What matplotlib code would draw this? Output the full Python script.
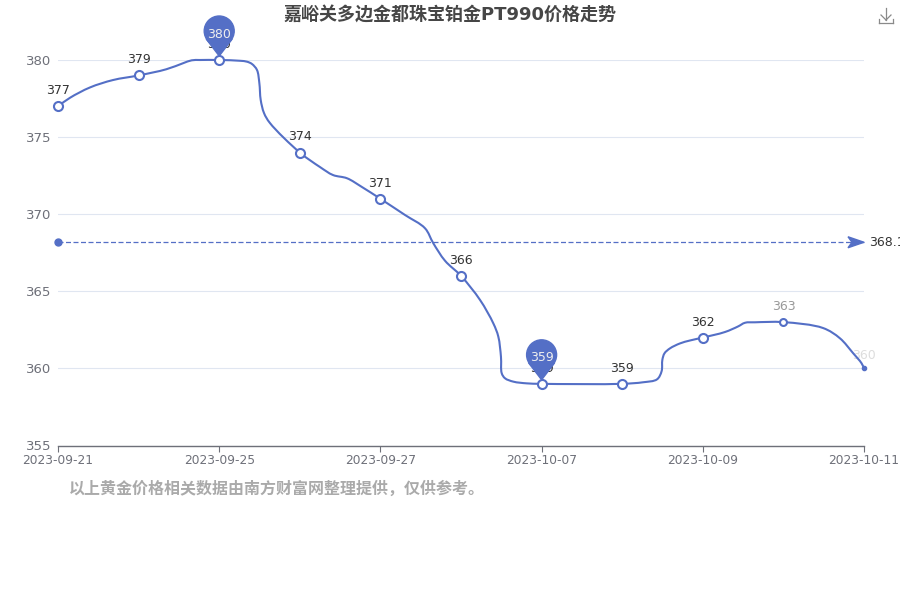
#!/usr/bin/python
# -*- coding: UTF-8 -*-
import numpy as np
from matplotlib import pyplot as plt
from matplotlib.path import Path
from matplotlib.patches import PathPatch, Polygon

plt.rcParams['font.family'] = ['DejaVu Sans', 'Noto Sans CJK SC']

dates = ['2023-09-21', '', '2023-09-25', '', '2023-09-27', '', '2023-10-07', '', '2023-10-09', '', '2023-10-11']
prices = [377, 379, 380, 374, 371, 366, 359, 359, 362, 363, 360]
avg_price = 368.18

# the smoothed line (position in days, price)
curve_x = [0, 0.149, 0.397, 0.682, 1, 1.344, 1.551, 1.659, 1.762, 2, 2.258, 2.345, 2.407, 2.469, 2.498, 2.515, 2.556, 2.63,
           3, 3.25, 3.412, 3.586, 3.772, 4, 4.305, 4.553, 4.656, 4.802, 5, 5.236, 5.401, 5.463, 5.496, 5.505,
           5.546, 5.65, 5.816, 6, 7, 7.258, 7.432, 7.489, 7.498, 7.525, 7.593, 7.717, 7.841, 8, 8.275, 8.437, 8.524, 8.648, 9,
           9.491, 9.702, 9.863, 9.97, 10]
curve_p = [377, 377.55, 378.22, 378.7, 379, 379.4, 379.79, 379.98, 380, 380, 379.95, 379.89, 379.74, 379.35, 378.51, 377.41, 376.56, 375.91,
           374, 373.06, 372.54, 372.33, 371.76, 371, 369.95, 369.09, 368.12, 366.98, 366, 364.44, 362.92, 362.06, 360.74, 359.69,
           359.36, 359.14, 359.03, 359, 359, 359.1, 359.29, 359.82, 360.55, 360.98, 361.3, 361.62, 361.81, 362, 362.36, 362.72, 362.96, 362.99, 363,
           362.62, 361.95, 361, 360.33, 360]

BLUE = '#546fc6'

fig = plt.figure(dpi=100, figsize=(9, 6))
ax = fig.add_axes([58 / 900, 1 - 445.5 / 600, 806 / 900, (445.5 - 60) / 600])
ax.set_xlim(0, len(prices) - 1)
ax.set_ylim(355, 380)
ax.set_facecolor('none')

for s in ['top', 'left', 'right']:
    ax.spines[s].set_visible(False)
ax.spines['bottom'].set_color('#6e7079')
ax.spines['bottom'].set_linewidth(1)
ax.set_yticks([355, 360, 365, 370, 375, 380])
ax.tick_params(axis='y', length=0, labelsize=9.5, labelcolor='#6e7079', pad=5)
ax.set_xticks(range(0, len(prices), 2))
ax.set_xticklabels(dates[::2])
ax.tick_params(axis='x', length=4, width=0.8, color='#6e7079', labelsize=8.8, labelcolor='#6e7079', pad=2)
ax.grid(axis='y', color='#e0e6f1', linewidth=0.8)
ax.set_axisbelow(True)

# centripetal catmull-rom through the read points, done in pixel space
pts = ax.transData.transform(np.column_stack([curve_x, curve_p]))
pts = np.vstack([2 * pts[0] - pts[1], pts, 2 * pts[-1] - pts[-2]])
verts = [tuple(pts[1])]
codes = [Path.MOVETO]
for i in range(1, len(pts) - 2):
    p0, p1, p2, p3 = pts[i - 1], pts[i], pts[i + 1], pts[i + 2]
    d1 = max(np.hypot(*(p1 - p0)), 1e-6) ** 0.5
    d2 = max(np.hypot(*(p2 - p1)), 1e-6) ** 0.5
    d3 = max(np.hypot(*(p3 - p2)), 1e-6) ** 0.5
    c1 = (d1 ** 2 * p2 - d2 ** 2 * p0 + (2 * d1 ** 2 + 3 * d1 * d2 + d2 ** 2) * p1) / (3 * d1 * (d1 + d2))
    c2 = (d3 ** 2 * p1 - d2 ** 2 * p3 + (2 * d3 ** 2 + 3 * d3 * d2 + d2 ** 2) * p2) / (3 * d3 * (d3 + d2))
    verts += [tuple(c1), tuple(c2), tuple(p2)]
    codes += [Path.CURVE4, Path.CURVE4, Path.CURVE4]
ax.add_patch(PathPatch(Path(verts, codes), fill=False, edgecolor=BLUE, linewidth=1.5,
                       transform=None, clip_on=False, zorder=3))

# markers get smaller and fainter towards the right end
sizes = [6.5] * 9 + [5]
for i, p in enumerate(prices[:-1]):
    ax.plot(i, p, 'o', ms=sizes[i], mfc='white', mec=BLUE, mew=1.5, clip_on=False, zorder=4)
ax.plot(10, prices[10], 'o', ms=3, color=BLUE, clip_on=False, zorder=4)

label_colors = ['#333333'] * 9 + ['#999999', '#dddddd']
for i, p in enumerate(prices):
    off = 4.5 if i == 10 else 6.5
    ax.annotate(str(p), (i, p), xytext=(0, off), textcoords='offset points', ha='center', va='bottom',
                fontsize=9, color=label_colors[i], zorder=2, annotation_clip=False)

# average line, the label runs off the right edge as in the original
ax.plot([0, 10], [avg_price, avg_price], color=BLUE, lw=0.9, ls=(0, (4, 2)), clip_on=False, zorder=3)
ax.plot(0, avg_price, 'o', ms=5, color=BLUE, clip_on=False, zorder=3)
ax_x, ax_y = ax.transData.transform((10, avg_price))
fig.patches.append(Polygon(np.array([(ax_x, ax_y), (ax_x - 16, ax_y + 5.5), (ax_x - 12, ax_y), (ax_x - 16, ax_y - 5.5)]),
                           closed=True, transform=None, color=BLUE, figure=fig, zorder=3))
ax.annotate(str(avg_price), (10, avg_price), xytext=(3.5, 0), textcoords='offset points', va='center',
            fontsize=9, color='#333333', annotation_clip=False)

# max / min pins
for i in [int(np.argmax(prices)), int(np.argmin(prices))]:
    bx, by = ax.transData.transform((i, prices[i]))
    head = (bx, by + 29)
    fig.patches.append(Polygon(np.array([(bx, by + 4), (bx - 13, by + 21), (bx + 13, by + 21)]),
                               closed=True, transform=None, color=BLUE, figure=fig, zorder=5))
    fig.patches.append(plt.Circle(head, 15, transform=None, color=BLUE, figure=fig, zorder=5))
    fig.text(bx / 900, (by + 26) / 600, str(prices[i]), ha='center', va='center', fontsize=9, color='#eeeeee', zorder=6)

fig.text(0.5, 1 - 16 / 600, '嘉峪关多边金都珠宝铂金PT990价格走势', ha='center', va='center',
         fontsize=13, fontweight='bold', color='#464646')
fig.text(69 / 900, 1 - 489 / 600, '以上黄金价格相关数据由南方财富网整理提供，仅供参考。', ha='left', va='center',
         fontsize=11.5, fontweight='bold', color='#aaaaaa')

# download icon
ic = dict(color='#8a8a8a', lw=0.9, transform=None)
for xx, yy in [((886, 886), (8, 20)), ((881, 886), (15, 20)), ((891, 886), (15, 20)),
               ((879, 879), (19, 23)), ((879, 893), (23, 23)), ((893, 893), (23, 19))]:
    fig.add_artist(plt.Line2D(xx, [600 - v for v in yy], **ic))

plt.savefig('out.png', dpi=100)
